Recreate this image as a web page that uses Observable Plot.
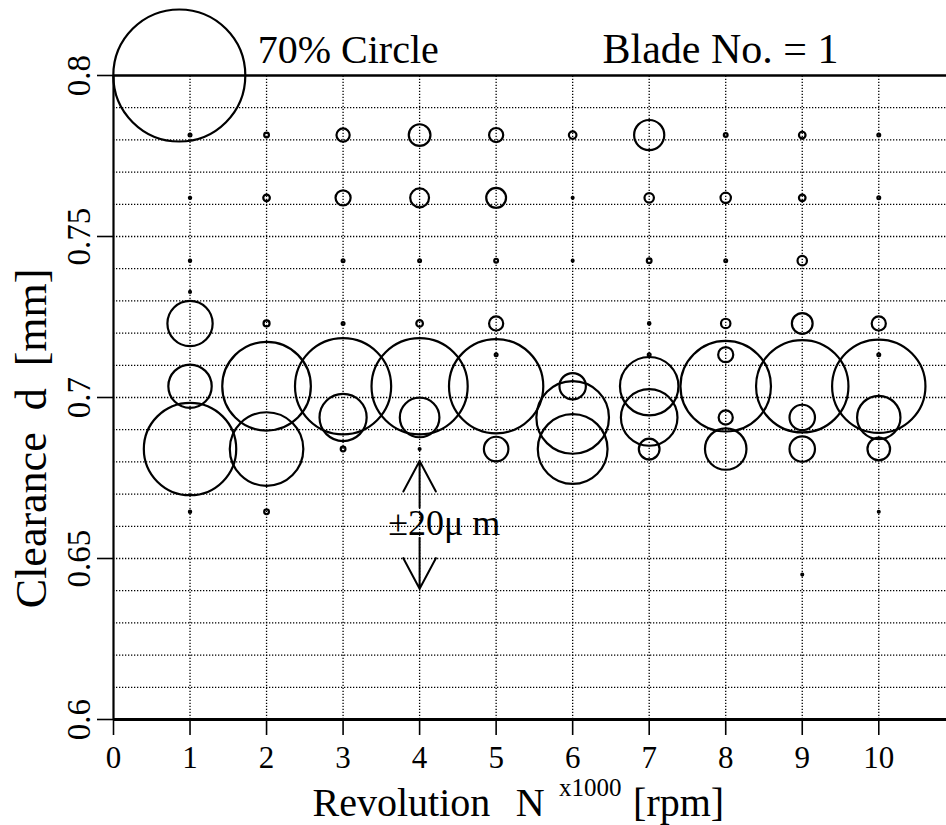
<!DOCTYPE html>
<html>
<head>
<meta charset="utf-8">
<script src="https://cdn.jsdelivr.net/npm/d3@7"></script>
<script src="https://cdn.jsdelivr.net/npm/@observablehq/plot@0.6"></script>
<style>
  body { margin: 0; background: #fff; }
  #chart svg { display: block; }
</style>
</head>
<body>
<div id="chart"></div>
<script>
// ---- data: occurrence (%) of measured clearance at each revolution ----
const revolution = [
  1,1,1,1,1,1,1,1,
  2,2,2,2,2,2,
  3,3,3,3,3,3,3,
  4,4,4,4,4,4,4,
  5,5,5,5,5,5,5,
  6,6,6,6,6,6,
  7,7,7,7,7,7,7,7,
  8,8,8,8,8,8,8,8,
  9,9,9,9,9,9,9,9,
  10,10,10,10,10,10,10,10
];
const clearance = [
  0.7815,0.762,0.7425,0.7328,0.723,0.7035,0.684,0.6645,
  0.7815,0.762,0.723,0.7035,0.684,0.6645,
  0.7815,0.762,0.7425,0.723,0.7035,0.6938,0.684,
  0.7815,0.762,0.7425,0.723,0.7035,0.6938,0.684,
  0.7815,0.762,0.7425,0.723,0.7133,0.7035,0.684,
  0.7815,0.762,0.7425,0.7035,0.6938,0.684,
  0.7815,0.762,0.7425,0.723,0.7133,0.7035,0.6938,0.684,
  0.7815,0.762,0.7425,0.723,0.7133,0.7035,0.6938,0.684,
  0.7815,0.762,0.7425,0.723,0.7035,0.6938,0.684,0.645,
  0.7815,0.762,0.723,0.7133,0.7035,0.6938,0.684,0.6645
];
const percent = [
  1.5,1.2,1.2,1,24,23,49,1.2,
  2.5,3.5,3.2,47,39,2.5,
  7,8,1.5,1.5,51,25,2.5,
  11.5,10,1.5,3.5,51,21,1,
  7.5,10.5,2,7.5,1.5,50,13,
  4,1,1,14,38.5,37,
  16,5,2.5,1.3,1.5,31,30,11,
  2,5.5,1.5,5,8,48,7.5,22,
  3.5,3.5,5,11,49,13.5,13.5,1,
  1.5,1.5,7.5,1.5,49.5,23,12,1
];

const xTicks = [0,1,2,3,4,5,6,7,8,9,10];
const yTicks = [0.6,0.65,0.7,0.75,0.8];
const xGrid = [1,2,3,4,5,6,7,8,9,10];
const yGrid = d3.range(61, 80).map(d => d / 100);

const legendCircle = [{x: 0.86, y: 0.8, p: 70}];
const legendText = [{x: 1.885, y: 0.8, text: "70% Circle"}];
const bladeText = [{x: 6.39, y: 0.8, text: "Blade No. = 1"}];

// ±20 µm tolerance arrows (long virtual shaft, start inset so only the visible part is drawn)
const tolUp = [{x1: 4, y1: 0.6155, x2: 4, y2: 0.6803}];
const tolDown = [{x1: 4, y1: 0.7055, x2: 4, y2: 0.6406}];
const tolText = [{x: 3.59, y: 0.6572, text: "±20μ m"}];

const xLabelMain = [
  {x: 2.6, text: "Revolution"},
  {x: 5.255, text: "N"},
  {x: 6.79, text: "[rpm]"}
];
const xLabelSup = [{x: 5.82, text: "x1000"}];
const yLabel = [{y: 0.6873, text: "Clearance  d  [mm]"}];

const points = revolution.map((r, i) => ({rpm: r, d: clearance[i], p: percent[i]}));

const serif = "'Liberation Serif', 'Times New Roman', Times, serif";

const chart = Plot.plot({
  width: 946,
  height: 825,
  marginLeft: 113,
  marginRight: 0,
  marginTop: 75,
  marginBottom: 106,
  x: {domain: [0, 10.885]},
  y: {domain: [0.6, 0.8]},
  r: {type: "linear", domain: [0, 70], range: [0, 66]},
  style: {fontFamily: serif, color: "#000", background: "#fff", overflow: "visible"},
  marks: [
    // dotted grid
    Plot.ruleY(yGrid, {stroke: "#000", strokeWidth: 1.3, strokeDasharray: "1.3,1.7"}),
    Plot.ruleX(xGrid, {y1: 0.6, y2: 0.8, stroke: "#000", strokeWidth: 1.3, strokeDasharray: "1.3,1.7"}),
    // frame
    Plot.ruleY([0.8], {stroke: "#000", strokeWidth: 2.6}),
    Plot.ruleY([0.6], {stroke: "#000", strokeWidth: 2.8}),
    Plot.ruleX([0], {y1: 0.6, y2: 0.8, stroke: "#000", strokeWidth: 2.2}),
    // axes
    Plot.axisX(xTicks, {tickSize: 16, tickPadding: 10, fontSize: 31, strokeWidth: 1.6, label: null}),
    Plot.axisY(yTicks, {tickSize: 16, tickRotate: -90, tickPadding: 8, fontSize: 33, strokeWidth: 1.6,
      label: null, tickFormat: d => String(+d.toFixed(2))}),
    // bubbles
    Plot.dot(points, {x: "rpm", y: "d", r: "p", stroke: "#000", strokeWidth: 2.2, fill: "none"}),
    Plot.dot(legendCircle, {x: "x", y: "y", r: "p", stroke: "#000", strokeWidth: 2.2, fill: "none"}),
    // legend / title texts
    Plot.text(legendText, {x: "x", y: "y", text: "text", textAnchor: "start", lineAnchor: "bottom", dy: -13, fontSize: 40}),
    Plot.text(bladeText, {x: "x", y: "y", text: "text", textAnchor: "start", lineAnchor: "bottom", dy: -13, fontSize: 42}),
    // tolerance arrows
    Plot.arrow(tolUp, {x1: "x1", y1: "y1", x2: "x2", y2: "y2", stroke: "#000", strokeWidth: 2,
      headLength: 26, headAngle: 56, insetStart: 162}),
    Plot.arrow(tolDown, {x1: "x1", y1: "y1", x2: "x2", y2: "y2", stroke: "#000", strokeWidth: 2,
      headLength: 26, headAngle: 56, insetStart: 158}),
    Plot.text(tolText, {x: "x", y: "y", text: "text", textAnchor: "start", lineAnchor: "bottom", fontSize: 36}),
    // axis labels
    Plot.text(xLabelMain, {x: "x", text: "text", frameAnchor: "bottom", textAnchor: "start", lineAnchor: "bottom",
      dy: 96, fontSize: 40}),
    Plot.text(xLabelSup, {x: "x", text: "text", frameAnchor: "bottom", textAnchor: "start", lineAnchor: "bottom",
      dy: 76, fontSize: 25}),
    Plot.text(yLabel, {y: "y", text: "text", frameAnchor: "left", rotate: -90, textAnchor: "middle", lineAnchor: "bottom",
      dx: -68, fontSize: 44})
  ]
});
document.getElementById("chart").appendChild(chart);
</script>
</body>
</html>
